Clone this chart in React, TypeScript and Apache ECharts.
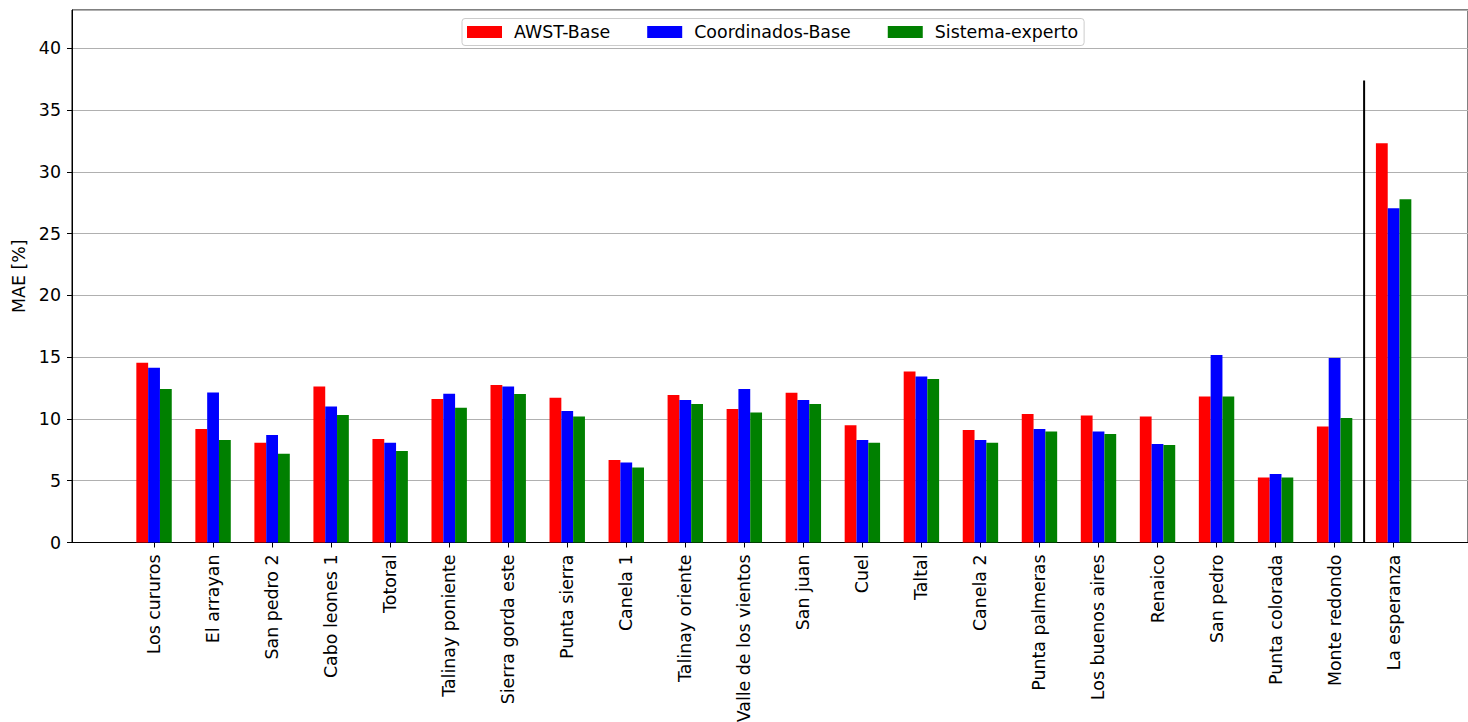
import React, { useEffect, useRef } from "react";
import * as echarts from "echarts";

const categories = [
  "Los cururos", "El arrayan", "San pedro 2", "Cabo leones 1", "Totoral",
  "Talinay poniente", "Sierra gorda este", "Punta sierra", "Canela 1",
  "Talinay oriente", "Valle de los vientos", "San juan", "Cuel", "Taltal",
  "Canela 2", "Punta palmeras", "Los buenos aires", "Renaico", "San pedro",
  "Punta colorada", "Monte redondo", "La esperanza",
];
const seriesNames = ["AWST-Base", "Coordinados-Base", "Sistema-experto"];
const awstBase = [14.55, 9.18, 8.07, 12.63, 8.37, 11.61, 12.74, 11.72, 6.67, 11.93, 10.8, 12.12, 9.5, 13.85, 9.1, 10.4, 10.28, 10.2, 11.82, 5.26, 9.38, 32.32];
const coordinadosBase = [14.15, 12.15, 8.7, 11.01, 8.07, 12.04, 12.63, 10.64, 6.48, 11.53, 12.42, 11.53, 8.29, 13.44, 8.29, 9.18, 8.99, 7.97, 15.17, 5.54, 14.94, 27.06];
const sistemaExperto = [12.42, 8.29, 7.18, 10.31, 7.4, 10.91, 12.01, 10.2, 6.07, 11.2, 10.53, 11.2, 8.07, 13.23, 8.07, 8.99, 8.78, 7.89, 11.82, 5.26, 10.08, 27.79];
const yTicks = [0, 5, 10, 15, 20, 25, 30, 35, 40];
const yMax = 43.1;
const separatorX = 20.5;
const separatorTop = 37.4;
const xRange = [-1.39, 22.26];

const FONT = "DejaVu Sans";
const FS = 17.4;

export default function App() {
  const ref = useRef<HTMLDivElement>(null);
  useEffect(() => {
    if (!ref.current) return;
    const chart = echarts.init(ref.current, undefined, { renderer: "svg" });
    const plotLeft = 72;
    const plotRight = 1468;
    const plotTop = 10;
    const plotBottom = 542.5;
    const bottom = 722 - plotBottom;
    const unit = (plotRight - plotLeft) / (xRange[1] - xRange[0]);
    const bandLeft = plotLeft + (-0.5 - xRange[0]) * unit;
    const bandRight = plotLeft + (categories.length - 0.5 - xRange[0]) * unit;
    const barW = 0.2 * unit;

    const option: any = {
      animation: false,
      textStyle: { fontFamily: FONT },
      legend: {
        data: seriesNames,
        left: 462,
        top: 18.5,
        orient: "horizontal",
        icon: "rect",
        itemWidth: 35,
        itemHeight: 12,
        itemGap: 37,
        padding: [5, 6, 5, 5],
        backgroundColor: "#fff",
        borderColor: "#cccccc",
        borderWidth: 1,
        borderRadius: 3,
        textStyle: { fontFamily: FONT, fontSize: FS, color: "#000", padding: [0, 0, 0, 7] },
        z: 10,
      },
      grid: [
        {
          left: plotLeft,
          width: plotRight - plotLeft,
          top: plotTop,
          height: plotBottom - plotTop,
          containLabel: false,
          outerBoundsMode: "none",
          show: true,
          borderColor: "#000",
          borderWidth: 1,
          backgroundColor: "transparent",
        },
        {
          left: bandLeft,
          width: bandRight - bandLeft,
          top: plotTop,
          height: plotBottom - plotTop,
          containLabel: false,
          outerBoundsMode: "none",
        },
      ],
      xAxis: [
        {
          gridIndex: 0,
          type: "value",
          min: xRange[0],
          max: xRange[1],
          axisLine: { show: true, onZero: false, lineStyle: { color: "#000", width: 1 } },
          axisTick: { show: false },
          axisLabel: { show: false },
          splitLine: { show: false },
        },
        {
          gridIndex: 1,
          type: "category",
          data: categories,
          axisLine: { show: false, onZero: false },
          axisTick: { show: true, alignWithLabel: true, length: 5, lineStyle: { color: "#000" } },
          axisLabel: {
            interval: 0,
            rotate: 90,
            margin: 12,
            fontFamily: FONT,
            fontSize: FS,
            color: "#000",
          },
          splitLine: { show: false },
        },
      ],
      yAxis: [
        {
          gridIndex: 0,
          type: "value",
          min: 0,
          max: yMax,
          interval: yTicks[1] - yTicks[0],
          name: "MAE [%]",
          nameLocation: "middle",
          nameGap: 44,
          nameTextStyle: { fontFamily: FONT, fontSize: FS, color: "#000" },
          axisLine: { show: true, onZero: false, lineStyle: { color: "#000", width: 1 } },
          axisTick: { show: true, length: 5, lineStyle: { color: "#000" } },
          axisLabel: {
            fontFamily: FONT,
            fontSize: FS,
            color: "#000",
            margin: 11,
            showMaxLabel: false,
            formatter: (v: number) => (yTicks.includes(v) ? String(v) : ""),
          },
          splitLine: { show: true, lineStyle: { color: "#b0b0b0", width: 1 } },
        },
        {
          gridIndex: 1,
          type: "value",
          min: 0,
          max: yMax,
          show: false,
          axisLine: { onZero: false },
          splitLine: { show: false },
        },
      ],
      series: [
        {
          name: seriesNames[0],
          type: "bar",
          xAxisIndex: 1,
          yAxisIndex: 1,
          data: awstBase,
          barWidth: barW,
          barGap: "0%",
          itemStyle: { color: "#ff0000" },
        },
        {
          name: seriesNames[1],
          type: "bar",
          xAxisIndex: 1,
          yAxisIndex: 1,
          data: coordinadosBase,
          barWidth: barW,
          barGap: "0%",
          itemStyle: { color: "#0000ff" },
        },
        {
          name: seriesNames[2],
          type: "bar",
          xAxisIndex: 1,
          yAxisIndex: 1,
          data: sistemaExperto,
          barWidth: barW,
          barGap: "0%",
          itemStyle: { color: "#008000" },
        },
        {
          name: "separator",
          type: "line",
          xAxisIndex: 0,
          yAxisIndex: 0,
          data: [
            [separatorX, 0],
            [separatorX, separatorTop],
          ],
          symbol: "none",
          silent: true,
          lineStyle: { color: "#000", width: 2 },
          z: 5,
        },
      ],
    };
    chart.setOption(option);
    return () => chart.dispose();
  }, []);
  return (
    <div
      ref={ref}
      style={{ position: "absolute", left: 0, top: 0, width: 1468, height: 722, background: "#fff" }}
    />
  );
}
